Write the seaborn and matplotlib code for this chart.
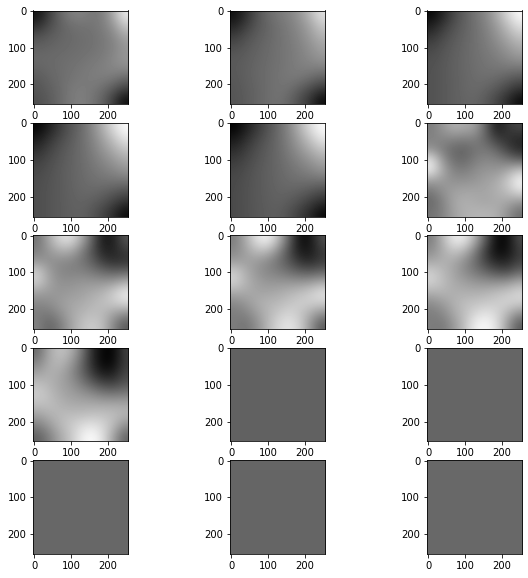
import numpy as np
import pandas as pd
import matplotlib
matplotlib.use("Agg")
import matplotlib.pyplot as plt
import seaborn as sns

# Coarse grey levels (0-255), left to right, top to bottom
p01 = [[20,60,100,125,130,120,125,170,235],[45,75,95,110,115,115,125,150,200],[80,90,100,105,110,113,120,135,165],[95,100,103,107,110,113,120,130,150],[105,105,108,110,113,118,123,135,150],[100,105,108,113,118,123,128,135,140],[90,100,108,115,120,125,125,120,105],[85,95,105,120,125,120,110,88,65],[80,90,105,120,128,118,98,62,15]]
p02 = [[15,45,80,105,120,130,150,185,225],[35,60,85,100,113,125,140,165,200],[60,78,92,102,112,122,135,155,178],[78,88,97,105,113,120,130,145,162],[88,93,100,106,113,120,128,138,150],[90,95,102,108,114,120,126,128,128],[88,95,102,108,115,120,118,108,95],[86,93,100,108,115,112,95,75,55],[85,92,100,108,114,102,78,52,12]]
p03 = [[8,35,70,95,115,135,170,215,250],[30,55,80,97,112,130,155,190,225],[52,72,88,100,112,125,145,170,195],[70,82,93,102,112,122,135,152,170],[78,86,95,103,111,118,126,138,150],[82,88,96,103,110,115,118,120,120],[82,88,95,102,108,110,105,95,85],[82,88,95,102,106,100,88,70,50],[82,88,95,100,102,90,70,45,12]]
p04 = [[5,30,60,85,105,135,175,220,252],[25,50,72,90,108,130,160,195,230],[45,65,82,95,108,125,148,172,198],[62,75,87,97,107,120,135,152,170],[72,80,90,98,106,115,125,135,148],[76,83,90,98,105,111,115,116,118],[78,84,90,97,103,105,100,92,82],[78,84,90,96,100,95,85,68,50],[78,84,90,95,97,87,68,45,12]]
p05 = [[3,28,55,80,105,135,178,222,252],[22,45,68,87,106,130,162,198,232],[42,60,78,92,105,125,148,173,198],[58,70,83,94,104,118,133,150,168],[68,77,87,95,103,112,122,132,145],[73,80,88,95,102,108,111,112,113],[74,81,88,94,100,101,96,88,76],[74,81,88,93,97,91,80,62,45],[74,81,87,92,94,82,62,40,10]]
p06 = [[125,150,175,170,160,100,25,55,70],[130,135,135,130,130,100,60,50,40],[145,125,105,100,115,120,100,65,40],[225,150,110,105,125,135,130,115,95],[235,170,130,125,140,150,150,165,195],[160,155,145,145,150,160,170,200,245],[120,145,160,165,165,165,175,190,220],[105,130,165,175,170,165,170,165,150],[115,130,160,175,180,180,175,145,110]]
p07 = [[115,165,215,225,175,100,25,30,85],[125,150,175,175,135,85,35,35,60],[150,145,140,135,120,95,60,45,50],[205,160,135,130,130,120,105,95,100],[205,165,145,145,150,150,150,155,175],[160,155,150,155,160,170,180,205,235],[135,140,155,165,170,180,190,200,215],[125,120,140,165,180,190,185,160,140],[130,100,120,160,190,205,190,135,90]]
p08 = [[125,170,225,245,190,100,15,20,80],[135,160,190,190,145,80,25,25,60],[155,160,155,140,115,85,50,40,60],[205,175,150,135,125,110,95,90,100],[210,180,160,150,150,150,150,155,170],[170,170,165,165,170,180,190,205,225],[135,150,170,180,185,195,205,205,205],[125,130,155,180,200,215,200,170,140],[125,115,140,180,215,230,210,150,90]]
p09 = [[125,180,235,235,175,90,10,10,75],[140,170,200,185,130,60,10,15,60],[165,175,170,145,110,65,35,35,65],[205,185,165,140,120,100,80,75,100],[210,190,170,160,150,145,145,150,170],[175,180,175,175,175,180,190,200,215],[140,155,175,190,195,200,205,210,205],[125,135,165,190,215,230,215,180,140],[125,120,150,190,240,250,225,155,90]]
p10 = [[105,165,195,180,125,45,5,5,65],[130,170,185,160,110,45,5,10,60],[160,175,170,145,105,60,25,30,70],[190,180,165,150,125,95,70,65,85],[205,190,170,160,150,140,125,120,125],[190,190,180,170,170,170,170,170,170],[160,175,185,190,190,195,195,190,180],[125,150,180,200,220,230,215,185,140],[95,125,165,195,235,255,225,160,100]]
p11 = [[98, 98], [98, 98]]
p12 = [[101, 101], [101, 101]]
p13 = [[103, 103], [103, 103]]
p14 = [[101, 101], [101, 101]]
p15 = [[104, 104], [104, 104]]
panels = [p01,p02,p03,p04,p05,p06,p07,p08,p09,p10,p11,p12,p13,p14,p15]
tick_values = [0, 100, 200]

rows = []
for k, grid in enumerate(panels):
    for i, line in enumerate(grid):
        for j, v in enumerate(line):
            rows.append({"panel": k, "row": i, "col": j, "grey": v})
df = pd.DataFrame(rows)

sns.set_style("ticks", {"axes.edgecolor": "black", "xtick.color": "black", "ytick.color": "black",
                        "text.color": "black", "font.family": ["DejaVu Sans"]})
plt.rcParams.update({"font.size": 10, "xtick.labelsize": 10, "ytick.labelsize": 10,
                     "axes.linewidth": 0.8, "xtick.major.size": 3.5, "ytick.major.size": 3.5,
                     "xtick.major.width": 0.8, "ytick.major.width": 0.8})

XLIM = (-2.7, 256)
YLIM = (254, -1.5)

def show(data, **kwargs):
    ax = plt.gca()
    img = data.pivot(index="row", columns="col", values="grey").to_numpy()
    ax.imshow(img, cmap="gray", vmin=0, vmax=255, interpolation="bicubic",
              aspect="auto", extent=(XLIM[0] - 2, XLIM[1] + 2, YLIM[0] + 2, YLIM[1] - 2))

g = sns.FacetGrid(df, col="panel", col_wrap=3, sharex=False, sharey=False, despine=False, height=2, aspect=1)
g.map_dataframe(show)
g.set_titles("")
g.set_axis_labels("", "")
for ax in g.axes.flat:
    ax.set_xlim(*XLIM)
    ax.set_ylim(*YLIM)
    ax.set_xticks(tick_values)
    ax.set_yticks(tick_values)
    ax.tick_params(labelbottom=True, labelleft=True)
g.figure.set_size_inches(528 / 72, 578 / 72)
g.figure.subplots_adjust(left=33.3 / 528, right=522.3 / 528, top=1 - 10.5 / 578, bottom=1 - 553.7 / 578,
                         wspace=1.07, hspace=0.2)
g.figure.savefig("out.png", dpi=72, facecolor="white")
